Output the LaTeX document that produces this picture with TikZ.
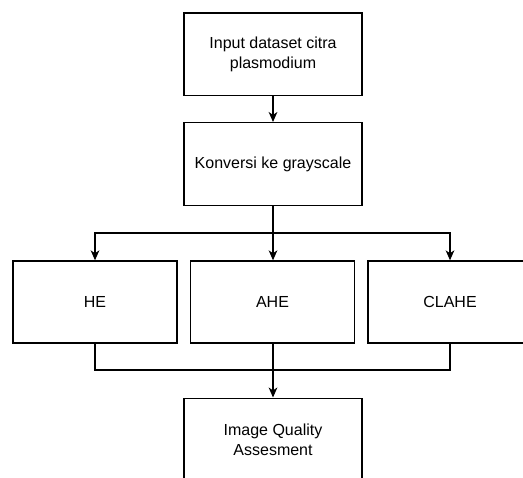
\documentclass[tikz,border=0pt]{standalone}
\usepackage{fontspec}
\setmainfont{Liberation Sans}
\usetikzlibrary{arrows.meta}
\begin{document}
\begin{tikzpicture}[x=0.75pt,y=-0.75pt,
  every node/.style={font=\fontsize{12}{15}\selectfont},
  mainbox/.style={draw=black,line width=1pt,minimum width=133.5pt,minimum height=62pt,inner sep=0pt,align=center,fill=white},
  rowbox/.style={draw=black,line width=1pt,minimum width=123pt,minimum height=61.5pt,inner sep=0pt,align=center,fill=white},
  conn/.style={line width=1pt,draw=black},
  arr/.style={conn,-{Stealth[length=7.5pt,width=6.5pt,inset=2.2pt]}}]
\fill[white] (0,0) rectangle (523,477);
\node[mainbox] (inp) at (273,54.5) {Input dataset citra\\plasmodium};
\node[mainbox] (conv) at (273,164) {Konversi ke grayscale};
\node[rowbox] (he) at (95,302) {HE};
\node[rowbox] (ahe) at (272.5,302) {AHE};
\node[rowbox] (clahe) at (450,302) {CLAHE};
\node[mainbox] (iqa) at (273,439.5) {Image Quality\\Assesment};
\coordinate (split) at (273,233);
\coordinate (merge) at (273,370);
\draw[arr] (inp) -- (conv);
\draw[arr] (conv.south) -- (split) -| (he.north);
\draw[arr] (conv.south) -- (split) -| (clahe.north);
\draw[arr] (conv.south) -- (conv.south |- ahe.north);
\draw[conn] (he.south) |- (merge);
\draw[conn] (clahe.south) |- (merge);
\draw[arr] (ahe.south -| iqa.north) -- (iqa.north);
\pgfresetboundingbox
\useasboundingbox (0,0) rectangle (523,477);
\end{tikzpicture}
\end{document}
